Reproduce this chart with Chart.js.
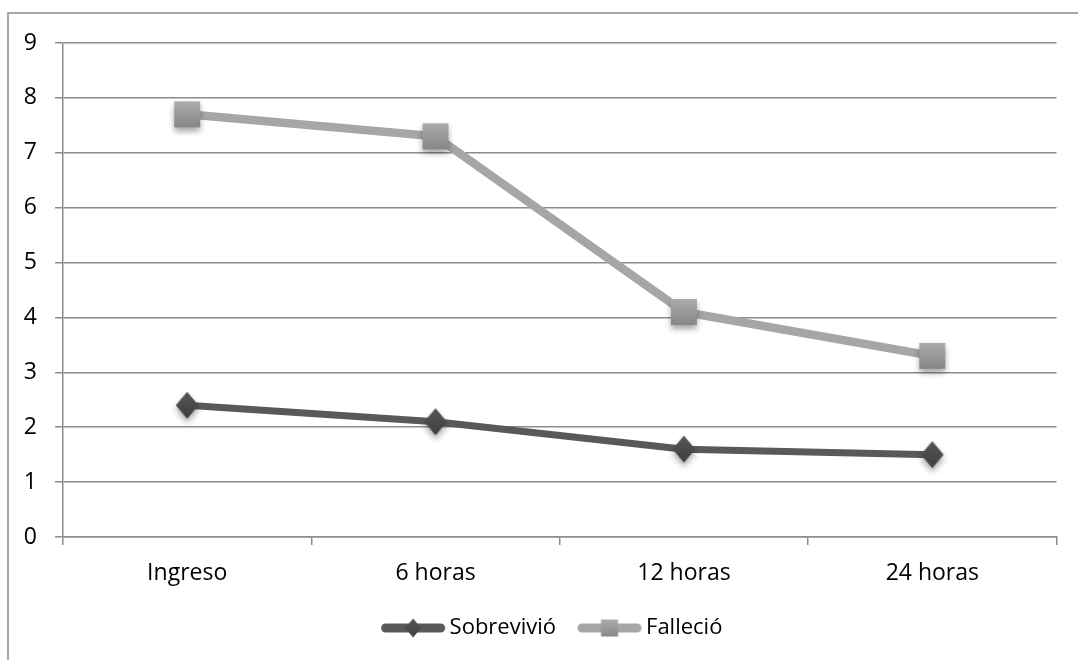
<!DOCTYPE html>
<html><head><meta charset="utf-8">
<script src="https://cdn.jsdelivr.net/npm/chart.js@4.4.1/dist/chart.umd.min.js"></script>
<style>
html,body{margin:0;padding:0;background:#fff;}
canvas{display:block;}
</style></head><body>
<canvas id="c" width="1078" height="660"></canvas>
<script>
const categories = ['Ingreso', '6 horas', '12 horas', '24 horas'];
const seriesNames = ['Sobrevivió', 'Falleció'];
const sobrevivio = [2.4, 2.1, 1.6, 1.5];
const fallecio = [7.7, 7.3, 4.1, 3.3];
const yTicks = [0, 1, 2, 3, 4, 5, 6, 7, 8, 9];

const FONT = 'Open Sans';
const FS = 23;
const LFS = 22;
const GRID = '#8c8c8c';
const DARK_LINE = '#595959', DARK_MARK = '#4a4a4a';
const LIGHT_LINE = '#a6a6a6', LIGHT_MARK = '#9a9a9a';

function markerCanvas(kind, size, withLine, lineColor) {
  const W = withLine ? 66 : 50, H = withLine ? 26 : 50;
  const c = document.createElement('canvas');
  c.width = W; c.height = H;
  const g = c.getContext('2d');
  const cx = W / 2, cy = H / 2;
  if (withLine) {
    g.strokeStyle = lineColor; g.lineWidth = 9; g.lineCap = 'round';
    g.beginPath(); g.moveTo(5.5, cy); g.lineTo(W - 5.5, cy); g.stroke();
  }
  g.save();
  if (!withLine) {
    g.shadowColor = 'rgba(0,0,0,0.35)';
    g.shadowBlur = 6; g.shadowOffsetY = 4;
  }
  let grad;
  g.beginPath();
  if (kind === 'square') {
    const h = size / 2;
    grad = g.createLinearGradient(0, cy - h, 0, cy + h);
    grad.addColorStop(0, '#acacac'); grad.addColorStop(1, '#878787');
    g.rect(cx - h, cy - h, size, size);
  } else {
    const hw = size * 0.42, hh = size / 2;
    grad = g.createLinearGradient(0, cy - hh, 0, cy + hh);
    grad.addColorStop(0, '#565656'); grad.addColorStop(1, '#3f3f3f');
    g.moveTo(cx, cy - hh); g.lineTo(cx + hw, cy); g.lineTo(cx, cy + hh); g.lineTo(cx - hw, cy); g.closePath();
  }
  g.fillStyle = grad; g.fill();
  g.restore();
  return c;
}

const diamondPt = markerCanvas('diamond', 27, false);
const squarePt = markerCanvas('square', 26, false);
const diamondLeg = markerCanvas('diamond', 19, true, DARK_LINE);
const squareLeg = markerCanvas('square', 17, true, LIGHT_LINE);

const framePlugin = {
  id: 'frame',
  beforeDraw(chart) {
    const ctx = chart.ctx;
    ctx.save();
    ctx.fillStyle = '#fff';
    ctx.fillRect(0, 0, chart.width, chart.height);
    ctx.strokeStyle = GRID; ctx.lineWidth = 1.5;
    ctx.beginPath();
    ctx.moveTo(8, chart.height); ctx.lineTo(8, 13); ctx.lineTo(chart.width, 13);
    ctx.stroke();
    ctx.restore();
  }
};
const legendShift = {
  id: 'legendShift',
  afterLayout(chart) {
    const l = chart.legend;
    if (l) { l.left += 24; l.right += 24; l.top -= 11; l.bottom -= 11; }
  }
};

new Chart(document.getElementById('c'), {
  type: 'line',
  plugins: [framePlugin, legendShift],
  data: {
    labels: categories,
    datasets: [
      { label: seriesNames[0], data: sobrevivio, borderColor: DARK_LINE, backgroundColor: DARK_MARK,
        borderWidth: 7, pointStyle: diamondPt, pointRadius: 12, tension: 0, fill: false },
      { label: seriesNames[1], data: fallecio, borderColor: LIGHT_LINE, backgroundColor: LIGHT_MARK,
        borderWidth: 8.5, pointStyle: squarePt, pointRadius: 13, tension: 0, fill: false }
    ]
  },
  options: {
    responsive: false,
    animation: false,
    devicePixelRatio: 1,
    layout: { padding: { left: 0, right: 16, top: 43, bottom: 0 } },
    scales: {
      x: {
        offset: true,
        grid: { display: true, drawOnChartArea: false, drawTicks: true, tickLength: 8, color: GRID, lineWidth: 1.5, offset: true },
        border: { display: true, color: GRID, width: 1.5 },
        ticks: { font: { family: FONT, size: FS }, color: '#000', padding: 15, maxRotation: 0 },
        afterFit: s => { s.height = 63; }
      },
      y: {
        min: 0, max: 9,
        afterBuildTicks: s => { s.ticks = yTicks.map(v => ({ value: v })); },
        grid: { color: GRID, lineWidth: 1.5, tickLength: 8 },
        border: { display: true, color: GRID, width: 1.5 },
        ticks: { font: { family: FONT, size: FS }, color: '#000', padding: 18 },
        afterFit: s => { s.width = 63; }
      }
    },
    plugins: {
      tooltip: { enabled: false },
      legend: {
        position: 'bottom',
        labels: {
          usePointStyle: true,
          pointStyleWidth: 51,
          padding: 28,
          color: '#000',
          font: { family: FONT, size: LFS },
          generateLabels: chart => chart.data.datasets.map((d, i) => ({
            text: d.label, pointStyle: i === 0 ? diamondLeg : squareLeg,
            fillStyle: d.borderColor, strokeStyle: d.borderColor, lineWidth: 0,
            hidden: false, datasetIndex: i, fontColor: '#000'
          }))
        }
      }
    }
  }
});
</script>
</body></html>
